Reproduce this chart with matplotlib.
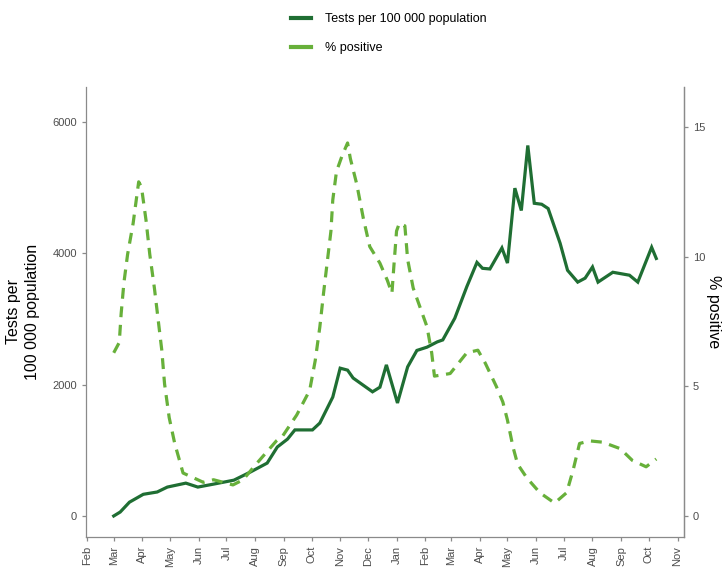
import pandas as pd
import matplotlib.pyplot as plt
import matplotlib.dates as mdates
from matplotlib.lines import Line2D

plt.rcParams['font.family'] = ['Liberation Sans', 'DejaVu Sans']

# tests per 100 000 population (left axis)
test_dates = ["2020-03-01", "2020-03-08", "2020-03-18", "2020-04-02", "2020-04-17", "2020-04-28",
              "2020-05-18", "2020-05-31", "2020-06-17", "2020-07-09", "2020-07-27", "2020-08-14",
              "2020-08-25", "2020-09-05", "2020-09-13", "2020-10-02", "2020-10-10", "2020-10-24",
              "2020-11-01", "2020-11-09", "2020-11-15", "2020-12-06", "2020-12-14", "2020-12-21",
              "2021-01-02", "2021-01-13", "2021-01-23", "2021-02-03", "2021-02-14", "2021-02-20",
              "2021-03-05", "2021-03-18", "2021-03-29", "2021-04-04", "2021-04-12", "2021-04-25",
              "2021-05-01", "2021-05-09", "2021-05-16", "2021-05-23", "2021-05-30", "2021-06-07",
              "2021-06-14", "2021-06-27", "2021-07-05", "2021-07-16", "2021-07-24", "2021-08-01",
              "2021-08-07", "2021-08-23", "2021-09-10", "2021-09-19", "2021-10-04", "2021-10-09"]
tests = [0, 60, 210, 330, 365, 440, 500, 440, 485, 545, 670, 805, 1050, 1170, 1310, 1310, 1415, 1810,
         2250, 2220, 2100, 1890, 1960, 2300, 1720, 2270, 2520, 2570, 2650, 2680, 3010, 3490, 3860, 3770,
         3760, 4080, 3850, 4990, 4650, 5640, 4760, 4745, 4680, 4150, 3740, 3560, 3620, 3790, 3560, 3710,
         3665, 3560, 4090, 3920]

# % positive (right axis)
pos_dates = ["2020-03-01", "2020-03-07", "2020-03-09", "2020-03-12", "2020-03-16", "2020-03-22",
             "2020-03-28", "2020-03-31", "2020-04-05", "2020-04-09", "2020-04-14", "2020-04-18",
             "2020-04-22", "2020-04-25", "2020-04-30", "2020-05-06", "2020-05-15", "2020-06-06",
             "2020-06-17", "2020-07-08", "2020-07-19", "2020-08-02", "2020-08-24", "2020-08-31",
             "2020-09-15", "2020-09-29", "2020-10-05", "2020-10-10", "2020-10-14", "2020-10-18",
             "2020-10-22", "2020-10-24", "2020-10-28", "2020-11-03", "2020-11-09", "2020-11-12",
             "2020-11-19", "2020-11-26", "2020-12-03", "2020-12-14", "2020-12-22", "2020-12-27",
             "2020-12-29", "2021-01-01", "2021-01-04", "2021-01-10", "2021-01-13", "2021-01-19",
             "2021-01-26", "2021-02-03", "2021-02-08", "2021-02-11", "2021-02-28", "2021-03-18",
             "2021-03-30", "2021-04-07", "2021-04-19", "2021-04-26", "2021-05-01", "2021-05-07",
             "2021-05-12", "2021-05-22", "2021-06-05", "2021-06-21", "2021-07-04", "2021-07-11",
             "2021-07-18", "2021-07-29", "2021-08-12", "2021-08-31", "2021-09-13", "2021-09-28",
             "2021-10-09"]
positive = [6.3, 6.7, 7.8, 9.0, 10.1, 11.3, 12.9, 12.7, 11.4, 10.1,
            8.8, 7.6, 6.4, 5.1, 3.8, 2.8, 1.66, 1.3, 1.4, 1.2,
            1.4, 2.0, 2.9, 3.1, 3.9, 4.85, 6.0, 7.3, 8.6, 9.8,
            11.0, 12.2, 13.3, 13.9, 14.4, 13.8, 12.8, 11.5, 10.4, 9.76,
            9.1, 8.6, 9.6, 11.0, 11.3, 11.2, 9.9, 8.8, 8.1, 7.3,
            6.3, 5.4, 5.5, 6.3, 6.4, 5.9, 5.0, 4.4, 3.7, 2.66,
            2.0, 1.47, 0.9, 0.5, 0.9, 1.77, 2.8, 2.9, 2.85, 2.6,
            2.15, 1.9, 2.2]

dark = "#1f6e33"
light = "#67b03a"
grey = "#8a8a8a"
txt = "#4d4d4d"

fig = plt.figure(figsize=(7.28, 5.69), dpi=100)
ax = fig.add_axes([86 / 728, 32 / 569, 598 / 728, 450 / 569])
ax2 = ax.twinx()

ax.plot(pd.to_datetime(test_dates), tests, color=dark, lw=2.3, solid_joinstyle='miter')
ax2.plot(pd.to_datetime(pos_dates), positive, color=light, lw=2.3, dashes=(3.4, 2.4))

ax.set_xlim(pd.Timestamp("2020-01-31"), pd.Timestamp("2021-11-08"))
ax.set_ylim(-320, 6530)
ax.set_yticks([0, 2000, 4000, 6000])
ax2.set_ylim(-0.81, 16.56)
ax2.set_yticks([0, 5, 10, 15])

ax.xaxis.set_major_locator(mdates.MonthLocator())
ax.xaxis.set_major_formatter(mdates.DateFormatter('%b'))
for a in (ax, ax2):
    a.spines['top'].set_visible(False)
    for s in a.spines.values():
        s.set_color(grey)
        s.set_linewidth(0.9)
    a.tick_params(colors=grey, labelcolor=txt, labelsize=8, length=3, width=0.9)
ax.tick_params(axis='x', labelrotation=90)
ax2.spines['left'].set_visible(False)
ax2.spines['bottom'].set_visible(False)

ax.set_ylabel("Tests per\n100 000 population", fontsize=11.5, color='black', labelpad=9, linespacing=1.3)
ax2.set_ylabel("% positive", fontsize=11.5, color='black', rotation=270, labelpad=11)

handles = [Line2D([], [], color=dark, lw=3), Line2D([], [], color=light, lw=3)]
fig.legend(handles, ["Tests per 100 000 population", "% positive"], loc='upper left',
           bbox_to_anchor=(291 / 728, 1 - 13 / 569), frameon=False, borderpad=0, borderaxespad=0,
           handlelength=1.6, handletextpad=1.1, labelspacing=1.35, fontsize=9)

fig.savefig("out.png", dpi=100)
